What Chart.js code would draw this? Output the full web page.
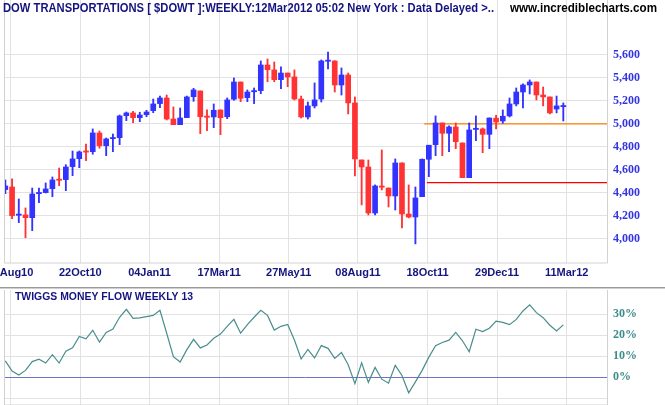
<!DOCTYPE html>
<html lang="en">
<head>
<meta charset="UTF-8">
<title>Dow Transportations - Weekly</title>
<script src="https://cdn.jsdelivr.net/npm/chart.js@4"></script>
<style>
  body { margin: 0; background: #fff; }
  #wrap { position: relative; width: 665px; height: 405px; overflow: hidden; }
  #priceChart { position: absolute; left: 0; top: 0; }
  #flowChart { position: absolute; left: 0; top: 285px; }
</style>
</head>
<body>
<div id="wrap">
  <canvas id="priceChart" width="665" height="285"></canvas>
  <canvas id="flowChart" width="665" height="120"></canvas>
</div>
<script>
// weekly candles, oldest first
const opens  = [4429,4452,4206,4209,4185,4394,4403,4437,4515,4516,4629,4698,4760,4759,4922,4811,4872,4881,5072,5096,
                5055,5081,5116,5177,5226,5043,4994,5055,5237,5287,5062,5061,5122,5063,5215,5365,5229,5280,5290,5513,
                5470,5385,5443,5409,5217,5061,5157,5217,5545,5548,5339,5426,5183,4687,4626,4226,4455,4443,4374,4661,
                4217,4191,4368,4693,4820,5009,4919,4974,4835,4533,4952,4957,4910,5050,5026,5070,5174,5278,5339,5365,
                5252,5235,5130,5150];
const highs  = [4513,4522,4348,4270,4443,4443,4487,4539,4617,4646,4765,4765,4826,4957,4939,4878,4913,5078,5104,5110,
                5102,5119,5217,5243,5252,5148,5139,5243,5310,5287,5122,5174,5122,5226,5400,5365,5296,5313,5548,5565,
                5539,5496,5443,5470,5243,5191,5357,5557,5626,5550,5487,5443,5235,4687,4687,4470,4774,4443,4696,4661,
                4470,4452,4696,4815,5070,5009,4983,5009,4835,5009,5070,4965,5052,5076,5122,5226,5313,5348,5383,5365,
                5322,5235,5243,5183];
const lows   = [4394,4176,4142,4011,4072,4316,4400,4368,4463,4420,4550,4620,4681,4737,4789,4724,4759,4820,5029,5011,
                5020,5063,5098,5142,5035,4994,4994,5055,5197,4916,4942,4968,4907,5046,5206,5194,5194,5177,5263,5368,
                5368,5307,5324,5209,5052,5043,5139,5191,5478,5278,5252,5087,4548,4296,4209,4209,4426,4278,4252,4096,
                4183,3957,4368,4542,4724,4724,4759,4785,4533,4533,4855,4750,4785,4957,5006,5061,5157,5139,5261,5209,
                5157,5087,5096,5026];
const closes = [4461,4203,4210,4185,4391,4400,4435,4513,4510,4626,4696,4757,4755,4922,4811,4870,4876,5070,5096,5055,
                5078,5104,5174,5226,5043,4994,5052,5235,5296,5063,5058,5119,5055,5209,5365,5223,5278,5284,5513,5472,
                5385,5443,5409,5217,5061,5157,5209,5548,5550,5339,5426,5183,4696,4626,4226,4461,4450,4374,4661,4217,
                4191,4357,4693,4815,5009,4919,4974,4846,4533,4948,4956,4910,5052,5017,5067,5174,5278,5339,5365,5252,
                5235,5096,5157,5154];

// Twiggs Money Flow (13 week), percent
const moneyFlow = [7.8,3.0,1.1,3.3,7.5,8.6,6.8,10.8,6.8,12.4,14.1,19.5,18.3,22.4,16.8,21.4,23.0,28.6,32.4,28.1,
                   28.3,28.9,29.5,31.9,21.0,9.8,7.3,13.2,18.1,14.0,15.4,18.6,20.6,24.3,27.6,21.0,25.1,28.6,31.9,29.5,
                   22.5,24.3,25.2,17.8,8.7,13.3,9.2,15.1,13.8,9.0,11.8,6.0,-3.0,6.9,-2.4,4.7,-0.9,-2.8,5.7,0.9,
                   -7.4,-2.2,3.3,9.6,15.1,16.6,17.7,21.4,17.4,12.2,22.9,21.8,23.4,26.8,26.2,25.1,27.6,31.6,34.5,30.8,
                   28.4,24.8,22.1,25.0];

// date labels and where they fall, in weeks from the first candle
const tickLabels = ['11Aug10','22Oct10','04Jan11','17Mar11','27May11','08Aug11','18Oct11','29Dec11','11Mar12'];
const tickWeeks  = [0.8, 11.15, 21.45, 31.8, 42.15, 52.45, 62.8, 73.15, 83.5];

const priceTicks = [4000, 4200, 4400, 4600, 4800, 5000, 5200, 5400, 5600];
const flowTicks  = [-10, 0, 10, 20, 30];

// support / resistance lines drawn from week 62 onwards
const levelValues = [5000, 4490];
const levelStarts = [62.3, 62.7];

const X_MIN = -0.2, X_MAX = 89.5;
const BLUE = '#3333ff', RED = '#ff3333';
const GRID = '#e2e2e2';

const weeks = opens.map((_, i) => i);
const upDown = ctx => closes[ctx.dataIndex] >= opens[ctx.dataIndex] ? BLUE : RED;

// fixed-size axes so both panels share the same plot area
const fixRight = s => { s.width = 58; s.paddingTop = 0; s.paddingBottom = 0; };
const xTicks = axis => { axis.ticks = tickWeeks.map(v => ({ value: v })); };

const frame = {
  id: 'frame',
  afterDraw(chart, args, opts) {
    const { ctx, chartArea: a } = chart;
    ctx.save();
    ctx.strokeStyle = '#d2d2d2';
    ctx.lineWidth = 1;
    ctx.beginPath();
    ctx.moveTo(4.5, a.top); ctx.lineTo(4.5, a.bottom);
    ctx.lineTo(a.right + 0.5, a.bottom); ctx.lineTo(a.right + 0.5, a.top);
    ctx.stroke();
    (opts.texts || []).forEach(t => {
      ctx.font = t.font;
      ctx.fillStyle = t.color;
      ctx.textBaseline = 'middle';
      ctx.fillText(t.text, t.x, t.y, t.w);
    });
    if (opts.separator) {
      ctx.fillStyle = '#9a9a9a';
      ctx.fillRect(0, 2, chart.width, 1);
      ctx.fillStyle = '#cfcfcf';
      ctx.fillRect(0, 3, chart.width, 1);
    }
    ctx.restore();
  }
};

new Chart(document.getElementById('priceChart'), {
  type: 'bar',
  data: {
    datasets: [
      {
        data: weeks.map(i => ({ x: i, y: [opens[i], closes[i]] })),
        backgroundColor: upDown,
        grouped: false, barThickness: 5, maxBarThickness: 5, minBarLength: 1.2,
        borderWidth: 0
      },
      {
        data: weeks.map(i => ({ x: i, y: [lows[i], highs[i]] })),
        backgroundColor: upDown,
        grouped: false, barThickness: 1.2, maxBarThickness: 1.2,
        borderWidth: 0
      },
      {
        type: 'line',
        data: [{ x: levelStarts[0], y: levelValues[0] }, { x: X_MAX, y: levelValues[0] }],
        borderColor: '#ff8000', borderWidth: 1.3, pointRadius: 0
      },
      {
        type: 'line',
        data: [{ x: levelStarts[1], y: levelValues[1] }, { x: X_MAX, y: levelValues[1] }],
        borderColor: '#ff0000', borderWidth: 1.3, pointRadius: 0
      }
    ]
  },
  options: {
    responsive: false,
    animation: false,
    layout: { padding: { left: 4, top: 0, right: 0, bottom: 0 } },
    plugins: {
      legend: { display: false },
      tooltip: { enabled: false },
      frame: {
        texts: [
          { text: 'DOW TRANSPORTATIONS [ $DOWT ]:WEEKLY:12Mar2012 05:02 New York : Data Delayed >..',
            x: 3, y: 9, w: 491, font: 'bold 12px "Liberation Sans"', color: '#141480' },
          { text: 'www.incrediblecharts.com',
            x: 510, y: 9, w: 147, font: 'bold 12px "Liberation Sans"', color: '#000000' }
        ]
      }
    },
    scales: {
      x: {
        type: 'linear', min: X_MIN, max: X_MAX, offset: false,
        afterBuildTicks: xTicks,
        afterFit: s => { s.height = 22; s.paddingLeft = 0; s.paddingRight = 0; },
        grid: { color: GRID, drawTicks: false, offset: false },
        border: { display: false },
        ticks: {
          autoSkip: false, maxRotation: 0, padding: 3,
          callback: (v, i) => tickLabels[i],
          font: { family: 'Liberation Sans', weight: 'bold', size: 11 },
          color: '#15157f'
        }
      },
      y: {
        position: 'right', min: 3791, max: 6078,
        afterBuildTicks: axis => { axis.ticks = priceTicks.map(v => ({ value: v })); },
        afterFit: fixRight,
        grid: { color: GRID, drawTicks: false },
        border: { display: false },
        ticks: {
          padding: 6,
          callback: v => v.toLocaleString('en-US'),
          font: { family: 'Liberation Serif', weight: 'bold', size: 12 },
          color: '#3535e0'
        }
      }
    }
  },
  plugins: [frame]
});

new Chart(document.getElementById('flowChart'), {
  type: 'line',
  data: {
    datasets: [{
      data: weeks.map(i => ({ x: i, y: moneyFlow[i] })),
      borderColor: '#4a8d8d', borderWidth: 1.2, pointRadius: 0, tension: 0
    }]
  },
  options: {
    responsive: false,
    animation: false,
    layout: { padding: { left: 4, top: 5, right: 0, bottom: 0 } },
    plugins: {
      legend: { display: false },
      tooltip: { enabled: false },
      frame: {
        separator: true,
        texts: [
          { text: 'TWIGGS MONEY FLOW WEEKLY 13',
            x: 15, y: 12, w: 178, font: 'bold 11px "Liberation Sans"', color: '#141480' }
        ]
      }
    },
    scales: {
      x: {
        type: 'linear', min: X_MIN, max: X_MAX,
        afterBuildTicks: xTicks,
        afterFit: s => { s.height = 0; s.paddingLeft = 0; s.paddingRight = 0; },
        grid: { color: GRID, drawTicks: false },
        border: { display: false },
        ticks: { display: false }
      },
      y: {
        position: 'right', min: -13.2, max: 41.6,
        afterBuildTicks: axis => { axis.ticks = flowTicks.map(v => ({ value: v })); },
        afterFit: fixRight,
        grid: {
          drawTicks: false,
          color: ctx => ctx.tick && ctx.tick.value === 0 ? '#7272c4' : GRID
        },
        border: { display: false },
        ticks: {
          padding: 6,
          callback: v => v === -10 ? '' : v + '%',
          font: { family: 'Liberation Serif', weight: 'bold', size: 12 },
          color: '#3d8b8b'
        }
      }
    }
  },
  plugins: [frame]
});
</script>
</body>
</html>
